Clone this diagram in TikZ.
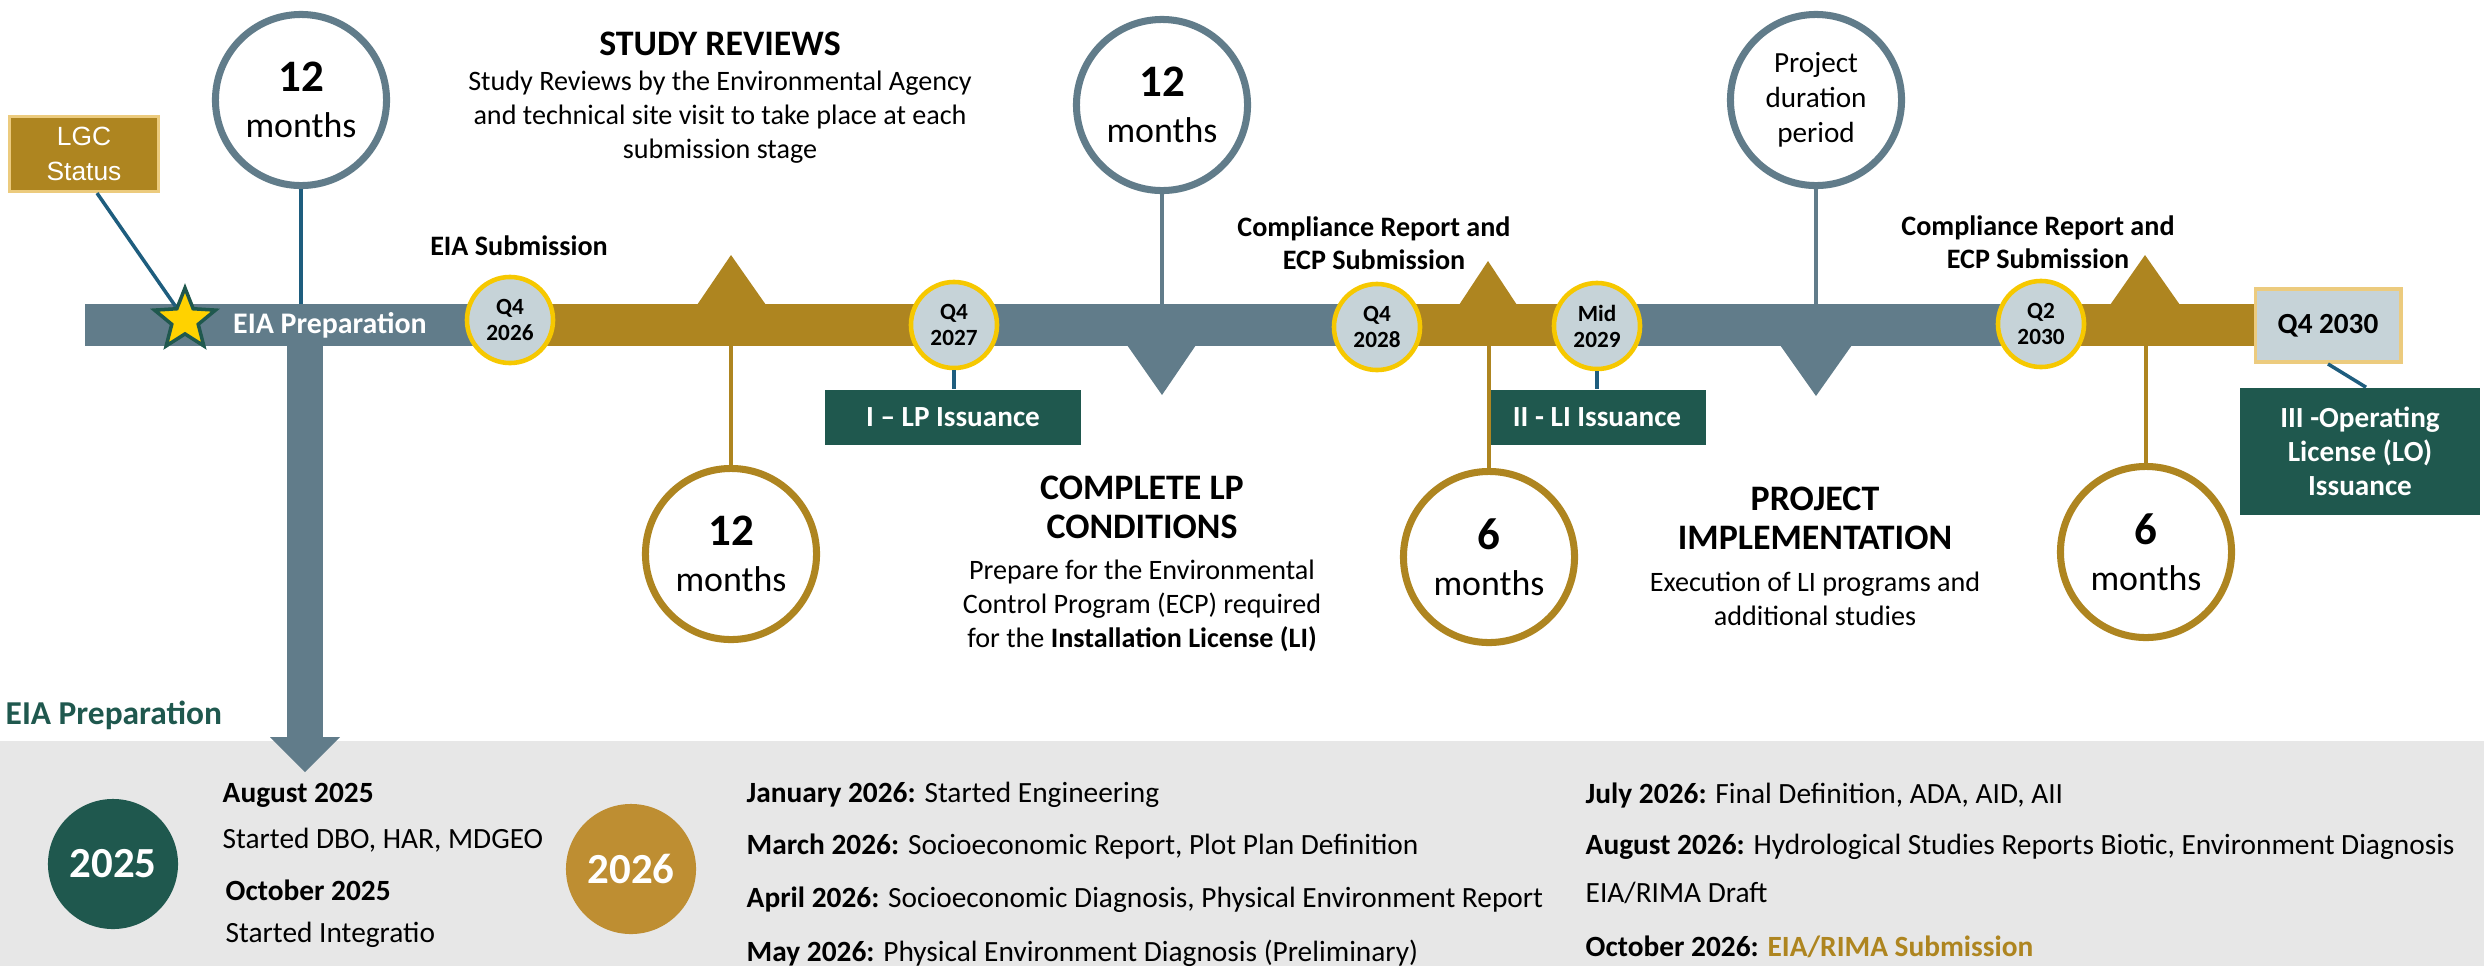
\documentclass[tikz,border=0pt]{standalone}
\usepackage{fontspec}
\setmainfont{Carlito}
\newfontfamily\lgcfont{Liberation Sans}
\usepackage{tikz}
\usetikzlibrary{shapes.geometric}
\usetikzlibrary{positioning}
\definecolor{slate}{HTML}{617C8A}
\definecolor{gold}{HTML}{AE8520}
\definecolor{pine}{HTML}{1F584E}
\definecolor{ochre}{HTML}{BE8E32}
\definecolor{mist}{HTML}{C6D3D8}
\definecolor{sun}{HTML}{F6C800}
\definecolor{sand}{HTML}{ECCB7E}
\definecolor{ink}{HTML}{1E5D7E}
\definecolor{panel}{HTML}{E7E7E7}
\definecolor{starfill}{HTML}{FFD200}
\newcommand{\numfont}{\fontsize{12.8}{13.2}\selectfont\bfseries}
\tikzset{period/.style={circle, draw=slate, line width=2pt, fill=white, minimum size=1.71cm, inner sep=0pt, align=center, font=\fontsize{10.2}{13.2}\selectfont},
  periodgold/.style={period, draw=gold},
  datemark/.style={circle, draw=sun, line width=1.3pt, fill=mist, minimum size=0.86cm, inner sep=0pt, align=center, font=\fontsize{6.6}{7.4}\selectfont\bfseries},
  licence/.style={fill=pine, text=white, inner sep=0pt, align=center, font=\fontsize{8.3}{9.7}\selectfont\bfseries},
  heading/.style={align=center, inner sep=0pt, font=\fontsize{10.2}{11.1}\selectfont\bfseries},
  bodytext/.style={align=center, inner sep=0pt, font=\fontsize{8}{9.6}\selectfont},
  boldtext/.style={align=center, inner sep=0pt, font=\fontsize{8}{9.4}\selectfont\bfseries},
  item/.style={anchor=west, inner sep=0pt, font=\fontsize{8.35}{10}\selectfont},
  yearmark/.style={circle, minimum size=1.3cm, inner sep=0pt, text=white, font=\fontsize{12.2}{14}\selectfont\bfseries},
  tick/.style={draw=ink, line width=1pt},
  goldline/.style={draw=gold, line width=0.95pt},
  slateline/.style={draw=slate, line width=0.95pt}}

\begin{document}
\begin{tikzpicture}[x=0.01cm,y=-0.01cm]
\useasboundingbox (0,0) rectangle (2484,966);
%%
\coordinate (bartop) at (0,304);
\coordinate (barbot) at (0,346);
% bottom panel
\fill[panel] (0,741) rectangle (2484,966);
% timeline bar
\fill[slate] (85,304) rectangle (510,346);
\fill[gold] (510,304) rectangle (954,346);
\fill[slate] (954,304) rectangle (1377,346);
\fill[gold] (1377,304) rectangle (1597,346);
\fill[slate] (1597,304) rectangle (2041,346);
\fill[gold] (2041,304) rectangle (2260,346);
\fill[slate] (287,345) rectangle (323,738);
\fill[slate] (270,737) -- (340,737) -- (305,772) -- cycle;
\fill[gold] (697,305) -- (766,305) -- (731,255) -- cycle;
\fill[slate] (1127,345) -- (1196,345) -- (1162,395) -- cycle;
\fill[gold] (1459,305) -- (1517,305) -- (1488,261) -- cycle;
\fill[slate] (1780,345) -- (1852,345) -- (1816,396) -- cycle;
\fill[gold] (2110,305) -- (2180,305) -- (2145,255) -- cycle;
%
\node (lgc) at (84,154) [rectangle, fill=gold, draw=sand, line width=0.9pt, minimum width=1.49cm, minimum height=0.75cm, inner sep=0pt, align=center, text=white, font=\lgcfont\fontsize{7.5}{10}\selectfont] {LGC\\Status};
\draw [tick] ([xshift=0.13cm]lgc.south) -- (185,320);
\node (star) at (185,320) [star, star points=5, star point ratio=2.3, minimum size=0.64cm, inner sep=0pt, fill=starfill, draw=pine, line width=1pt] {};
\node (prep) at (330,325) [inner sep=0pt, text=white, font=\fontsize{8.5}{10}\selectfont\bfseries] {EIA Preparation};
%
\node (c12a) at (301,100) [period] {{\numfont 12}\\months};
\node (c12b) at (731,554) [periodgold] {{\numfont 12}\\months};
\node (c12c) at (1162,105) [period] {{\numfont 12}\\months};
\node (c6a) at (1489,557) [periodgold] {{\numfont 6}\\months};
\node (cdur) at (1816,100) [period, font=\fontsize{8.3}{10}\selectfont] {Project\\duration\\period};
\node (c6b) at (2146,552) [periodgold] {{\numfont 6}\\months};
%
\node (q26) at (510,320) [datemark] {Q4\\2026};
\node (q27) at (954,325) [datemark] {Q4\\2027};
\node (q28) at (1377,327) [datemark] {Q4\\2028};
\node (m29) at (1597,326) [datemark] {Mid\\2029};
\node (q30) at (2041,324) [datemark] {Q2\\2030};
\node (q30box) at (2328,325.5) [rectangle, fill=mist, draw=sand, line width=1.1pt, minimum width=1.45cm, minimum height=0.73cm, inner sep=0pt, font=\fontsize{8.3}{10}\selectfont\bfseries] {Q4 2030};
%
\node (lp) at (953,417.5) [licence, minimum width=2.56cm, minimum height=0.55cm] {I -- LP Issuance};
\node (li) at (1597,417.5) [licence, minimum width=2.18cm, minimum height=0.55cm] {II - LI Issuance};
\node (lo) at (2360,451.5) [licence, minimum width=2.4cm, minimum height=1.27cm] {III -Operating\\License (LO)\\Issuance};
%
\draw [tick] (c12a.south) -- (c12a.south |- bartop);
\draw [goldline] (c12b.north |- barbot) -- (c12b.north);
\draw [slateline] (c12c.south) -- (c12c.south |- bartop);
\draw [tick] (q27.south) -- (q27.south |- lp.north);
\draw [goldline] (c6a.north |- barbot) -- (c6a.north);
\draw [tick] (m29.south) -- (m29.south |- li.north);
\draw [slateline] (cdur.south) -- (cdur.south |- bartop);
\draw [goldline] (c6b.north |- barbot) -- (c6b.north);
\draw [tick] (q30box.south) -- ([xshift=0.06cm]lo.north);
%
\node (studyhead) at (720,44) [heading] {STUDY REVIEWS};
\node (studytxt) at (720,117) [bodytext] {Study Reviews by the Environmental Agency\\and technical site visit to take place at each\\submission stage};
\node (eiasub) at (519,246) [boldtext] {EIA Submission};
\node (crep1) at (1374,243) [boldtext] {Compliance Report and\\ECP Submission};
\node (crep2) at (2038,242) [boldtext] {Compliance Report and\\ECP Submission};
\node (lphead) at (1142,507.5) [heading] {COMPLETE LP\\CONDITIONS};
\node (lptxt) at (1142,606) [bodytext] {Prepare for the Environmental\\Control Program (ECP) required\\for the \textbf{Installation License (LI)}};
\node (pihead) at (1815,518) [heading] {PROJECT\\IMPLEMENTATION};
\node (pitxt) at (1815,599) [bodytext] {Execution of LI programs and\\additional studies};
%
\node (eiaprep) at (5,715) [anchor=west, inner sep=0pt, text=pine, font=\fontsize{9.5}{11}\selectfont\bfseries] {EIA Preparation};
\node (y2025) at (113,864) [yearmark, fill=pine] {2025};
\node (y2026) at (631,869) [yearmark, fill=ochre] {2026};
\node (aug25) at (222,795) [item] {\textbf{August 2025}};
\node (aug25t) at (222,840) [item] {Started DBO, HAR, MDGEO};
\node (oct25) at (225,890) [item] {\textbf{October 2025}};
\node (oct25t) at (225,935) [item] {Started Integratio};
\node (jan26) at (746,795) [item] {\textbf{January 2026:} Started Engineering};
\node (mar26) at (746,847) [item] {\textbf{March 2026:} Socioeconomic Report, Plot Plan Definition};
\node (apr26) at (746,900) [item] {\textbf{April 2026:} Socioeconomic Diagnosis, Physical Environment Report};
\node (may26) at (746,953) [item] {\textbf{May 2026:} Physical Environment Diagnosis (Preliminary)};
\node (jul26) at (1585,795) [item] {\textbf{July 2026:} Final Definition, ADA, AID, AII};
\node (aug26) at (1585,847) [item] {\textbf{August 2026:} Hydrological Studies Reports Biotic, Environment Diagnosis};
\node (draft26) at (1585,893) [item] {EIA/RIMA Draft};
\node (oct26) at (1585,947) [item] {\textbf{October 2026:} \textcolor{gold}{\textbf{EIA/RIMA Submission}}};
%
\end{tikzpicture}
\end{document}
